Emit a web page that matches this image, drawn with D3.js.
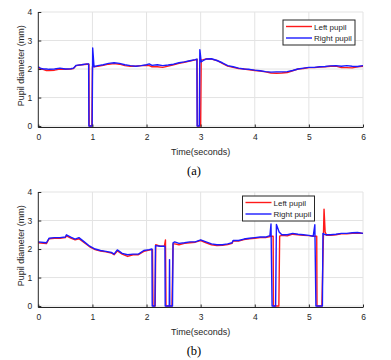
<!DOCTYPE html>
<html><head><meta charset="utf-8">
<script src="https://cdn.jsdelivr.net/npm/d3@7"></script>
<style>body{margin:0;background:#fff;}svg{display:block;}</style>
</head><body>
<script>
// ---- data ----
const xTicks = [0,1,2,3,4,5,6];
const yTicks = [0,1,2,3,4];
const seriesNames = ["Left pupil","Right pupil"];
const panelLabels = ["(a)","(b)"];

// Panel (a) [time s, diameter mm]
const leftA = [[0,2.06],[0.05,2.0],[0.1,1.98],[0.15,1.95],[0.2,1.95],[0.3,1.96],[0.4,2.0],[0.5,1.99],[0.6,2.0],[0.65,2.02],[0.7,2.12],[0.8,2.15],[0.9,2.17],[0.935,2.17],[0.94,0],[0.99,0],[1.0,2.08],[1.1,2.1],[1.2,2.13],[1.3,2.17],[1.4,2.19],[1.5,2.17],[1.6,2.12],[1.7,2.1],[1.8,2.1],[1.9,2.12],[2.0,2.13],[2.05,2.12],[2.1,2.08],[2.2,2.08],[2.3,2.06],[2.4,2.1],[2.5,2.15],[2.6,2.2],[2.7,2.24],[2.8,2.28],[2.9,2.32],[2.935,2.34],[2.94,0],[3.0,0],[3.01,2.32],[3.05,2.33],[3.1,2.35],[3.2,2.35],[3.3,2.3],[3.4,2.2],[3.5,2.1],[3.6,2.06],[3.7,2.02],[3.8,2.0],[3.9,1.97],[4.0,1.95],[4.1,1.93],[4.2,1.9],[4.3,1.86],[4.4,1.85],[4.5,1.86],[4.6,1.88],[4.7,1.94],[4.8,2.0],[4.9,2.02],[5.0,2.05],[5.1,2.05],[5.2,2.07],[5.3,2.08],[5.4,2.1],[5.5,2.1],[5.6,2.05],[5.7,2.05],[5.8,2.04],[5.9,2.08],[6.0,2.1]];
const rightA = [[0,2.08],[0.05,2.02],[0.1,2.0],[0.15,2.0],[0.2,1.99],[0.3,2.0],[0.4,2.03],[0.5,2.0],[0.6,2.01],[0.65,2.03],[0.7,2.13],[0.8,2.15],[0.9,2.18],[0.93,2.18],[0.935,0],[0.995,0],[1.005,2.74],[1.03,2.08],[1.1,2.12],[1.2,2.15],[1.3,2.2],[1.4,2.22],[1.5,2.2],[1.6,2.15],[1.7,2.12],[1.8,2.1],[1.9,2.12],[2.0,2.15],[2.05,2.18],[2.1,2.13],[2.2,2.15],[2.3,2.12],[2.4,2.14],[2.5,2.17],[2.6,2.22],[2.7,2.25],[2.8,2.29],[2.9,2.33],[2.93,2.35],[2.935,0],[2.975,0],[2.985,2.68],[3.01,2.25],[3.05,2.3],[3.1,2.35],[3.2,2.36],[3.3,2.3],[3.4,2.22],[3.5,2.12],[3.6,2.08],[3.7,2.03],[3.8,2.0],[3.9,1.99],[4.0,1.96],[4.1,1.94],[4.2,1.91],[4.3,1.89],[4.4,1.9],[4.5,1.9],[4.6,1.91],[4.7,1.95],[4.8,2.0],[4.9,2.03],[5.0,2.06],[5.1,2.06],[5.2,2.08],[5.3,2.09],[5.4,2.11],[5.5,2.12],[5.6,2.1],[5.7,2.12],[5.8,2.1],[5.9,2.09],[6.0,2.12]];

// Panel (b)
const leftB = [[0,2.22],[0.1,2.2],[0.15,2.19],[0.2,2.36],[0.3,2.38],[0.4,2.38],[0.5,2.4],[0.52,2.46],[0.6,2.38],[0.68,2.32],[0.75,2.36],[0.85,2.22],[0.95,2.08],[1.05,1.98],[1.15,1.93],[1.25,1.9],[1.35,1.86],[1.4,1.8],[1.46,1.93],[1.55,1.82],[1.65,1.74],[1.75,1.8],[1.85,1.8],[1.95,1.92],[2.05,1.96],[2.11,1.98],[2.12,0],[2.16,0],[2.17,2.15],[2.25,2.1],[2.33,2.1],[2.35,2.32],[2.36,0],[2.47,0],[2.49,2.18],[2.52,2.18],[2.6,2.15],[2.7,2.2],[2.8,2.22],[2.9,2.24],[3.0,2.3],[3.1,2.22],[3.2,2.15],[3.3,2.12],[3.4,2.13],[3.5,2.16],[3.58,2.2],[3.6,2.28],[3.7,2.28],[3.8,2.33],[3.9,2.36],[4.0,2.38],[4.1,2.4],[4.2,2.4],[4.3,2.45],[4.34,2.45],[4.345,0],[4.445,0],[4.46,2.45],[4.5,2.48],[4.6,2.46],[4.7,2.52],[4.8,2.5],[4.9,2.48],[5.0,2.47],[5.1,2.45],[5.145,2.45],[5.15,0],[5.24,0],[5.28,3.4],[5.3,2.6],[5.33,2.48],[5.4,2.48],[5.5,2.5],[5.6,2.53],[5.7,2.53],[5.8,2.55],[5.9,2.56],[6.0,2.55]];
const rightB = [[0,2.25],[0.1,2.23],[0.15,2.22],[0.2,2.38],[0.3,2.4],[0.4,2.4],[0.5,2.42],[0.52,2.5],[0.6,2.42],[0.68,2.35],[0.75,2.4],[0.85,2.25],[0.95,2.1],[1.05,2.0],[1.15,1.95],[1.25,1.92],[1.35,1.88],[1.4,1.82],[1.46,1.97],[1.55,1.85],[1.65,1.8],[1.75,1.82],[1.85,1.82],[1.95,1.95],[2.05,1.98],[2.1,2.0],[2.105,0],[2.155,0],[2.165,2.12],[2.25,2.1],[2.34,2.1],[2.345,0],[2.42,0],[2.425,1.63],[2.43,0],[2.48,0],[2.49,2.22],[2.52,2.25],[2.6,2.2],[2.7,2.22],[2.8,2.25],[2.9,2.25],[3.0,2.32],[3.1,2.25],[3.2,2.18],[3.3,2.15],[3.4,2.15],[3.5,2.18],[3.58,2.22],[3.6,2.3],[3.7,2.3],[3.8,2.35],[3.9,2.38],[4.0,2.4],[4.1,2.42],[4.2,2.42],[4.28,2.47],[4.3,2.88],[4.32,0],[4.385,0],[4.4,2.86],[4.45,2.6],[4.5,2.5],[4.6,2.5],[4.7,2.55],[4.8,2.52],[4.9,2.5],[5.0,2.48],[5.08,2.45],[5.11,2.85],[5.13,0],[5.25,0],[5.26,2.55],[5.3,2.5],[5.4,2.5],[5.5,2.52],[5.6,2.55],[5.7,2.55],[5.8,2.57],[5.9,2.58],[6.0,2.55]];

const colors = ["#ff1a1a","#1a1aff"];

// ---- drawing ----
const W = 391, H = 360;
const svg = d3.select("body").append("svg").attr("width", W).attr("height", H)
  .style("font-family","Liberation Sans, Arial, sans-serif");

const panels = [
  {top: 12, bottom: 127.5, left: leftA, right: rightA, label: panelLabels[0],
   legend: {x: 283, y: 20, w: 72, h: 25}},
  {top: 192, bottom: 307.5, left: leftB, right: rightB, label: panelLabels[1],
   legend: {x: 242.5, y: 196, w: 72, h: 25}}
];
const x0 = 38.3, x1 = 363;

panels.forEach(p => {
  const g = svg.append("g");
  const x = d3.scaleLinear().domain([0,6]).range([x0, x1]);
  const y = d3.scaleLinear().domain([-0.05,4]).range([p.bottom, p.top]);

  // grid
  g.append("g").selectAll("line").data(xTicks.filter(d=>d>0)).join("line")
    .attr("x1", d=>x(d)).attr("x2", d=>x(d)).attr("y1", p.top).attr("y2", p.bottom)
    .attr("stroke","#e3e3e3").attr("stroke-width",1);
  g.append("g").selectAll("line").data(yTicks).join("line")
    .attr("x1", x0).attr("x2", x1).attr("y1", d=>y(d)).attr("y2", d=>y(d))
    .attr("stroke","#e3e3e3").attr("stroke-width",1);

  // lines
  const line = d3.line().x(d=>x(d[0])).y(d=>y(d[1]));
  [p.left, p.right].forEach((s,i) => {
    g.append("path").datum(s).attr("d", line).attr("fill","none")
      .attr("stroke", colors[i]).attr("stroke-width", 1.4).attr("stroke-linejoin","round");
  });

  // axes
  const xAxis = d3.axisBottom(x).tickValues(xTicks).tickSize(-3).tickPadding(6).tickFormat(d3.format("d"));
  const yAxis = d3.axisLeft(y).tickValues(yTicks).tickSize(-3).tickPadding(6).tickFormat(d3.format("d"));
  const gx = g.append("g").attr("transform", `translate(0,${p.bottom})`).call(xAxis);
  const gy = g.append("g").attr("transform", `translate(${x0},0)`).call(yAxis);
  [gx, gy].forEach(a => {
    a.select(".domain").attr("stroke","#262626").attr("stroke-width",1);
    a.selectAll(".tick line").attr("stroke","#262626");
    a.selectAll("text").attr("fill","#262626").style("font-size","8.5px").style("font-family","Liberation Sans, Arial, sans-serif");
  });
  gy.select(".domain").attr("d", `M0,${p.bottom}V${p.top}`);
  gx.select(".domain").attr("d", `M${x0},0H${x1}`);

  // axis labels
  g.append("text").attr("x", (x0+x1)/2).attr("y", p.bottom + 27)
    .attr("text-anchor","middle").attr("fill","#262626").style("font-size","9px").text("Time(seconds)");
  g.append("text").attr("transform", `translate(24,${(p.top+p.bottom)/2 - 4}) rotate(-90)`)
    .attr("text-anchor","middle").attr("fill","#262626").style("font-size","9px").text("Pupil diameter (mm)");
  g.append("text").attr("x", 194).attr("y", p.bottom + 47.5)
    .attr("text-anchor","middle").attr("fill","#000").style("font-family","Liberation Serif, Times New Roman, serif")
    .style("font-size","12.5px").text(p.label);

  // legend
  const L = p.legend;
  const lg = g.append("g").attr("transform", `translate(${L.x},${L.y})`);
  lg.append("rect").attr("width", L.w).attr("height", L.h).attr("fill","#fff")
    .attr("stroke","#262626").attr("stroke-width",1);
  seriesNames.forEach((n,i) => {
    const yy = 6.5 + i*11.5;
    lg.append("line").attr("x1",3).attr("x2",29).attr("y1",yy).attr("y2",yy)
      .attr("stroke", colors[i]).attr("stroke-width",1.4);
    lg.append("text").attr("x",31).attr("y",yy+3).attr("fill","#262626")
      .style("font-size","8px").text(n);
  });
});
</script>
</body></html>
